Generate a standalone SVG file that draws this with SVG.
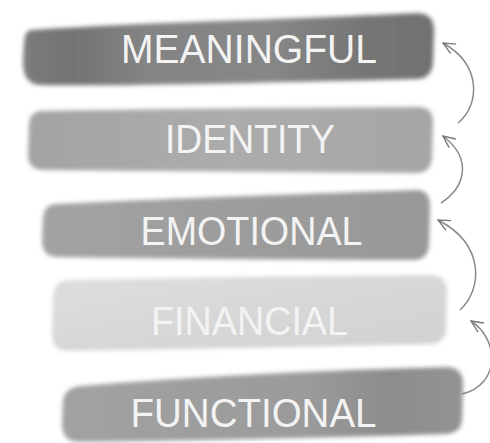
<svg xmlns="http://www.w3.org/2000/svg" width="490" height="443" viewBox="0 0 490 443">
<defs>
<filter id="soft" x="-5%" y="-20%" width="110%" height="140%"><feGaussianBlur stdDeviation="2.2"/></filter>
<linearGradient id="g1" x1="0" x2="1" y1="0" y2="0">
<stop offset="0" stop-color="#7c7c7c"/><stop offset="0.12" stop-color="#737373"/><stop offset="0.3" stop-color="#848484"/><stop offset="0.6" stop-color="#878787"/><stop offset="0.82" stop-color="#767676"/><stop offset="1" stop-color="#717171"/>
</linearGradient>
<linearGradient id="g2" x1="0" x2="1" y1="0" y2="0">
<stop offset="0" stop-color="#a4a4a4"/><stop offset="0.5" stop-color="#acacac"/><stop offset="1" stop-color="#a6a6a6"/>
</linearGradient>
<linearGradient id="g3" x1="0" x2="1" y1="0" y2="0">
<stop offset="0" stop-color="#a3a3a3"/><stop offset="0.5" stop-color="#9d9d9d"/><stop offset="1" stop-color="#989898"/>
</linearGradient>
<linearGradient id="g4" x1="0" x2="1" y1="0" y2="1">
<stop offset="0" stop-color="#dedede"/><stop offset="0.6" stop-color="#d6d6d6"/><stop offset="1" stop-color="#d0d0d0"/>
</linearGradient>
<linearGradient id="g5" x1="0" x2="1" y1="0" y2="0">
<stop offset="0" stop-color="#a2a2a2"/><stop offset="0.6" stop-color="#9b9b9b"/><stop offset="0.82" stop-color="#8c8c8c"/><stop offset="1" stop-color="#939393"/>
</linearGradient>
<marker id="ah" viewBox="0 0 14 14" refX="13" refY="7" markerWidth="14" markerHeight="14" markerUnits="userSpaceOnUse" orient="auto">
<path d="M1,1.5 L13,7 L1,12.5" fill="none" stroke="#7a7a7a" stroke-width="1.4"/>
</marker>
<style>
.lbl{font-family:"Liberation Sans","DejaVu Sans",Arial,sans-serif;font-size:41px;fill:#f3f3f3;text-anchor:middle}
.arr{fill:none;stroke:#8a8a8a;stroke-width:1.5}
</style>
</defs>
<rect width="490" height="443" fill="#ffffff"/>

<g id="meaningful">
<path filter="url(#soft)" fill="url(#g1)" d="M30,30 Q120,24 250,20 Q380,15 418,13 Q434,14 434,30 L433,62 Q432,78 418,79 Q300,82 200,84 Q100,86 40,85 Q23,84 23,62 L24,42 Q25,31 30,30 Z"/>
<text class="lbl" x="249" y="63" textLength="256" lengthAdjust="spacingAndGlyphs">MEANINGFUL</text>
</g>

<g id="identity">
<path filter="url(#soft)" fill="url(#g2)" d="M40,111 Q200,108 420,107 Q433,108 433,122 L432,158 Q431,172 418,173 Q250,172 42,170 Q28,169 28,155 L29,124 Q30,112 40,111 Z"/>
<text class="lbl" x="250" y="153" textLength="170" lengthAdjust="spacingAndGlyphs">IDENTITY</text>
</g>

<g id="emotional">
<path filter="url(#soft)" fill="url(#g3)" d="M55,204 Q200,197 418,190 Q430,191 430,206 L429,245 Q428,259 415,260 Q250,260 56,257 Q42,256 42,240 L43,218 Q44,205 55,204 Z"/>
<text class="lbl" x="251.5" y="245" textLength="222" lengthAdjust="spacingAndGlyphs">EMOTIONAL</text>
</g>

<g id="financial">
<path filter="url(#soft)" fill="url(#g4)" d="M68,280 Q250,276 432,275 Q447,276 447,292 L446,330 Q445,343 430,344 Q250,348 66,351 Q52,350 52,334 L53,296 Q54,281 68,280 Z"/>
<text class="lbl" x="249.5" y="335" textLength="197" lengthAdjust="spacingAndGlyphs">FINANCIAL</text>
</g>

<g id="functional">
<path filter="url(#soft)" fill="url(#g5)" d="M80,386 Q250,372 448,367 Q463,368 463,384 L462,420 Q461,433 446,434 Q250,440 78,442 Q62,441 62,424 L63,400 Q65,388 80,386 Z"/>
<text class="lbl" x="253.5" y="427" textLength="246" lengthAdjust="spacingAndGlyphs">FUNCTIONAL</text>
</g>

<g id="connectors">
<path class="arr" marker-end="url(#ah)" d="M458,123 C480,105 482,65 443,43"/>
<path class="arr" marker-end="url(#ah)" d="M441,203 C464,188 474,160 443,136"/>
<path class="arr" marker-end="url(#ah)" d="M460,310 C482,290 486,245 438,220"/>
<path class="arr" marker-end="url(#ah)" d="M462,394 C500,385 500,340 471,321"/>
</g>
</svg>
